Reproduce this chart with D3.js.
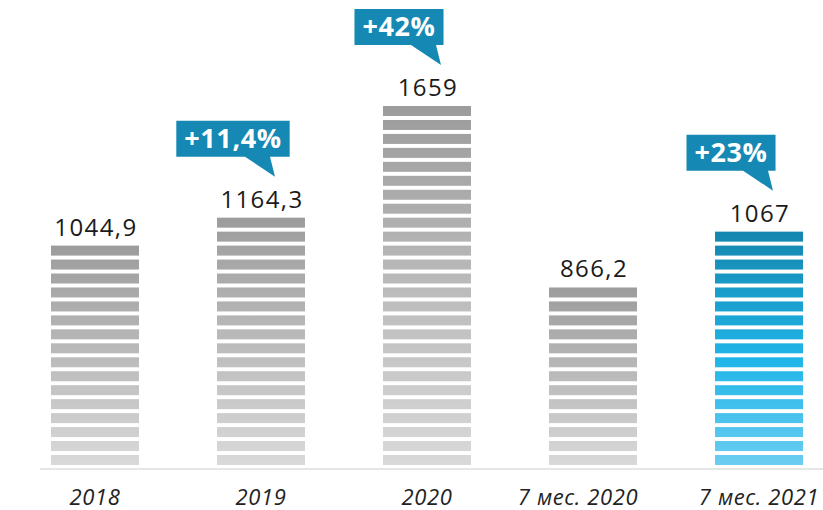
<!DOCTYPE html>
<html>
<head>
<meta charset="utf-8">
<script src="https://cdn.jsdelivr.net/npm/d3@7"></script>
<style>
    body { margin: 0; background: #fff; }
    svg { display: block; font-family: "Open Sans", "DejaVu Sans", sans-serif; }
</style>
</head>
<body>
<svg id="chart" width="823" height="510"></svg>
<script>
// data
const categories = ["2018", "2019", "2020", "7 мес. 2020", "7 мес. 2021"];
const values = [1044.9, 1164.3, 1659, 866.2, 1067];
const valueLabels = ["1044,9", "1164,3", "1659", "866,2", "1067"];
const growth = [null, "+11,4%", "+42%", null, "+23%"];
const highlight = [false, false, false, false, true];

const width = 823, height = 510;
const baseY = 465;
const stripeStep = 13.96, stripeH = 10;

const svg = d3.select("#chart");
const defs = svg.append("defs");

let x = d3.scaleBand()
    .domain(categories)
    .range([51, 803])
    .paddingInner(0.47)
    .paddingOuter(0)

let y = d3.scaleLinear()
    .domain([0, 2000])
    .range([baseY, 33])

// number of whole stripes for a value
function stripeCount(v) {
    return Math.round((baseY - y(v)) / stripeStep)
}
function barTop(v) {
    return baseY - stripeH - (stripeCount(v) - 1) * stripeStep
}

// baseline
svg.append("line")
    .attr("x1", 40).attr("x2", width)
    .attr("y1", baseY + 4).attr("y2", baseY + 4)
    .attr("stroke", "#e6e6e6")
    .attr("stroke-width", 2)

const bars = svg.selectAll(".bar")
    .data(categories)
    .join("g")
    .classed("bar", true)

bars.each(function (c, i) {
    let g = d3.select(this)
    let top = barTop(values[i])
    let gid = "grad" + i
    let grad = defs.append("linearGradient")
        .attr("id", gid)
        .attr("gradientUnits", "userSpaceOnUse")
        .attr("x1", 0).attr("x2", 0)
        .attr("y1", top).attr("y2", baseY)
    if (highlight[i]) {
        grad.append("stop").attr("offset", "0%").attr("stop-color", "#1486ae")
        grad.append("stop").attr("offset", "55%").attr("stop-color", "#20b6e9")
        grad.append("stop").attr("offset", "100%").attr("stop-color", "#6ccdf1")
    } else {
        grad.append("stop").attr("offset", "0%").attr("stop-color", "#9c9c9c")
        grad.append("stop").attr("offset", "100%").attr("stop-color", "#d9d9d9")
    }

    g.selectAll("rect")
        .data(d3.range(stripeCount(values[i])))
        .join("rect")
        .attr("x", x(c))
        .attr("y", k => baseY - stripeH - k * stripeStep)
        .attr("width", x.bandwidth())
        .attr("height", stripeH)
        .attr("fill", `url(#${gid})`)

    g.append("text")
        .attr("x", x(c) + x.bandwidth() / 2 + 1)
        .attr("y", top - 10)
        .attr("text-anchor", "middle")
        .attr("font-size", "24px")
        .attr("letter-spacing", "1.4px")
        .attr("fill", "#1a1a1a")
        .text(valueLabels[i])

    // callout
    if (growth[i]) {
        let cx = x(c) + x.bandwidth() / 2
        let tipY = top - 41
        let boxB = tipY - 20
        let boxH = 36
        let t = g.append("text")
            .attr("x", cx - 28)
            .attr("y", boxB - 9)
            .attr("text-anchor", "middle")
            .attr("font-size", "27px")
            .attr("font-weight", "bold")
            .attr("letter-spacing", "0.6px")
            .attr("fill", "#fff")
            .text(growth[i])
        let w = t.node().getComputedTextLength() + 16
        g.insert("path", "text:last-of-type")
            .attr("d", `M${cx - 28 - w / 2},${boxB - boxH} H${cx - 28 + w / 2} V${boxB} H${cx + 9} L${cx + 14},${tipY} L${cx - 16},${boxB} H${cx - 28 - w / 2} Z`)
            .attr("fill", "#1589b3")
    }
})

// axis labels
const labelShift = {"7 мес. 2020": -15}
svg.selectAll(".cat")
    .data(categories)
    .join("text")
    .classed("cat", true)
    .attr("x", d => x(d) + x.bandwidth() / 2 + (labelShift[d] || 0))
    .attr("y", 505)
    .attr("text-anchor", "middle")
    .attr("font-size", "22px")
    .attr("font-style", "italic")
    .attr("letter-spacing", "0.6px")
    .attr("fill", "#222")
    .text(d => d)
</script>
</body>
</html>
